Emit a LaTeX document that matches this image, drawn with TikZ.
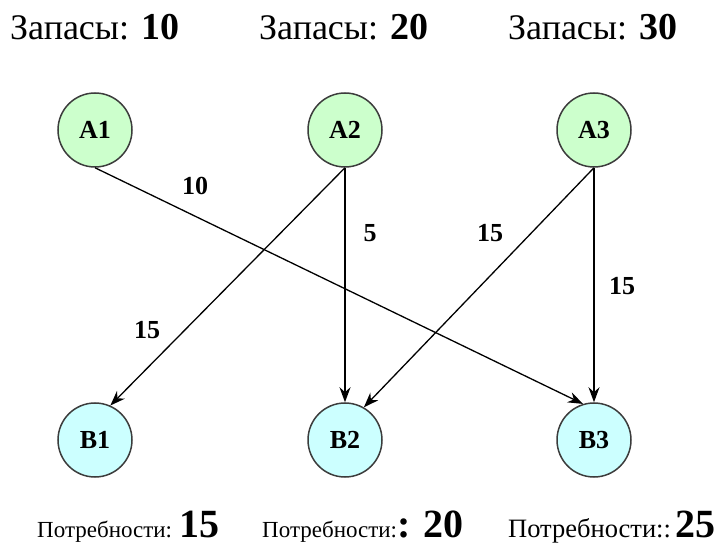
\documentclass[tikz,border=0pt]{standalone}
\usepackage{fontspec}
\setmainfont{Liberation Serif}
\usetikzlibrary{arrows.meta}
\definecolor{agreen}{RGB}{204,255,204}
\definecolor{bcyan}{RGB}{204,255,255}
\definecolor{rim}{RGB}{60,60,60}
\tikzset{
  anode/.style={circle, draw=rim, line width=1.5pt, fill=agreen, minimum size=74pt, inner sep=0pt, font=\fontsize{26}{26}\selectfont\bfseries},
  bnode/.style={anode, fill=bcyan},
  edge/.style={line width=1.3pt, -{Stealth[length=15pt,width=11pt]}},
  elabel/.style={font=\fontsize{26}{26}\selectfont\bfseries, inner sep=0pt},
  toplabel/.style={anchor=base west, inner sep=0pt, font=\fontsize{36}{36}\selectfont},
  botlabel/.style={anchor=base west, inner sep=0pt, font=\fontsize{23}{23}\selectfont},
}
\newcommand{\bignum}[1]{{\fontsize{40}{40}\selectfont\bfseries #1}}
\newcommand{\topnum}[1]{{\fontsize{38}{38}\selectfont\bfseries #1}}
\begin{document}
\begin{tikzpicture}[x=1pt,y=-1pt]
\useasboundingbox (0,0) rectangle (721,545);
% top labels
\node[toplabel] (s1) at (10,40) {Запасы: \topnum{10}};
\node[toplabel] (s2) at (259,40) {Запасы: \topnum{20}};
\node[toplabel] (s3) at (508,40) {Запасы: \topnum{30}};
% nodes
\node[anode] (A1) at (95,130) {A1};
\node[anode] (A2) at (345,130) {A2};
\node[anode] (A3) at (594,130) {A3};
\node[bnode] (B1) at (95,440) {B1};
\node[bnode] (B2) at (345,440) {B2};
\node[bnode] (B3) at (594,440) {B3};
% edges
\draw[edge] (A1.south) -- (B3.107);
\draw[edge] (A2.south) -- (B1.66);
\draw[edge] (A2.south) -- (B2.north);
\draw[edge] (A3.south) -- (B2.60);
\draw[edge] (A3.south) -- (B3.north);
% edge labels
\node[elabel] (l1) at (195,186) {10};
\node[elabel] (l2) at (370,233) {5};
\node[elabel] (l3) at (490,233) {15};
\node[elabel] (l4) at (622,286) {15};
\node[elabel] (l5) at (147,330) {15};
% bottom labels
\node[botlabel] (p1) at (37,537) {Потребности: \bignum{15}};
\node[botlabel] (p2) at (262,537) {Потребности:\bignum{: 20}};
\node[botlabel, font=\fontsize{26.5}{26.5}\selectfont] (p3) at (508,537) {Потребности::\,\bignum{25}};
\end{tikzpicture}
\end{document}
